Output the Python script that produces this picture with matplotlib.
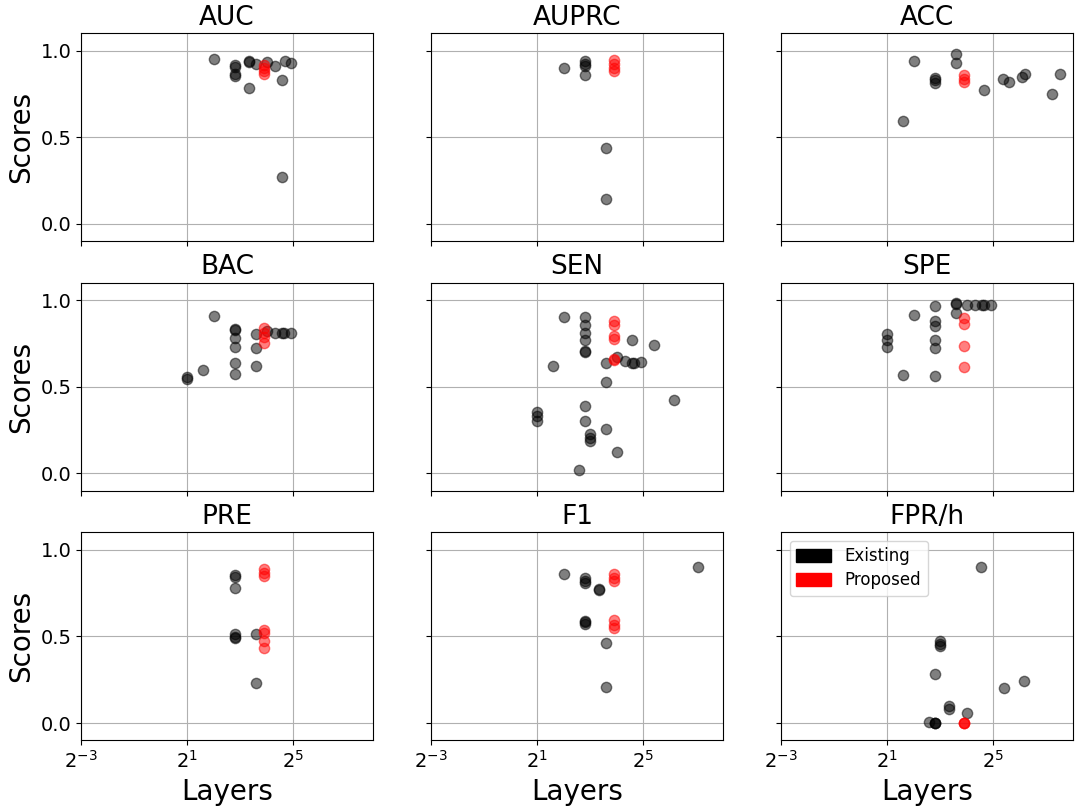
import matplotlib
matplotlib.use("Agg")
import matplotlib.pyplot as plt
from matplotlib.patches import Patch
from matplotlib.ticker import NullLocator

METRICS = ["AUC", "AUPRC", "ACC", "BAC", "SEN", "SPE", "PRE", "F1", "FPR/h"]

# existing methods: number of layers and score per metric
existing_layers = {
    "AUC": [4, 7, 7, 7, 7, 10, 10, 12, 10, 16, 20, 24, 24, 26, 30],
    "AUPRC": [4, 7, 7, 7, 7, 12, 12],
    "ACC": [3, 4, 7, 7, 7, 12, 12, 25, 41, 48, 68, 73, 147, 180],
    "BAC": [2, 2, 3, 4, 7, 7, 7, 7, 7, 7, 12, 12, 12, 16, 20, 24, 25, 30],
    "SEN": [2, 2, 2, 3, 4, 6, 7, 7, 7, 7, 7, 7, 7, 7, 8, 8, 8, 12, 12, 12,
            16, 16, 20, 24, 24, 25, 30, 42, 72],
    "SPE": [2, 2, 2, 3, 4, 7, 7, 7, 7, 7, 7, 12, 12, 12, 16, 20, 24, 25, 30],
    "PRE": [7, 7, 7, 7, 7, 7, 12, 12],
    "F1": [4, 7, 7, 7, 10, 10, 7, 7, 7, 12, 12, 135],
    "FPR/h": [23, 8, 8, 8, 7, 10, 10, 16, 42, 72, 6, 7, 7, 7],
}
existing_scores = {
    "AUC": [0.954, 0.915, 0.905, 0.865, 0.855, 0.938, 0.932, 0.925, 0.782,
            0.934, 0.913, 0.828, 0.272, 0.940, 0.927],
    "AUPRC": [0.902, 0.940, 0.925, 0.910, 0.859, 0.439, 0.145],
    "ACC": [0.595, 0.942, 0.840, 0.830, 0.810, 0.979, 0.931, 0.771, 0.834,
            0.817, 0.848, 0.863, 0.748, 0.863],
    "BAC": [0.555, 0.545, 0.595, 0.908, 0.835, 0.825, 0.784, 0.732, 0.636,
            0.576, 0.803, 0.726, 0.617, 0.819, 0.809, 0.809, 0.809, 0.809],
    "SEN": [0.355, 0.330, 0.300, 0.617, 0.902, 0.021, 0.904, 0.855, 0.813,
            0.767, 0.708, 0.698, 0.391, 0.304, 0.225, 0.205, 0.187, 0.636,
            0.530, 0.258, 0.669, 0.121, 0.649, 0.769, 0.640, 0.640, 0.645,
            0.740, 0.422],
    "SPE": [0.803, 0.770, 0.730, 0.570, 0.913, 0.967, 0.882, 0.848, 0.769,
            0.721, 0.565, 0.985, 0.975, 0.927, 0.969, 0.969, 0.969, 0.969,
            0.969],
    "PRE": [0.852, 0.842, 0.780, 0.516, 0.495, 0.488, 0.514, 0.231],
    "F1": [0.857, 0.838, 0.819, 0.810, 0.775, 0.765, 0.588, 0.580, 0.573,
           0.462, 0.208, 0.898],
    "FPR/h": [0.902, 0.472, 0.457, 0.443, 0.283, 0.096, 0.083, 0.060, 0.204,
              0.245, 0.006, 0.0, 0.0, 0.0],
}

# proposed model variants, all with 15 layers
proposed_layers = 15
proposed_scores = {
    "AUC": [0.917, 0.900, 0.880, 0.863],
    "AUPRC": [0.946, 0.920, 0.900, 0.880],
    "ACC": [0.859, 0.835, 0.820],
    "BAC": [0.842, 0.813, 0.790, 0.751],
    "SEN": [0.880, 0.857, 0.794, 0.775, 0.663, 0.653],
    "SPE": [0.894, 0.861, 0.734, 0.613],
    "PRE": [0.886, 0.867, 0.848, 0.534, 0.520, 0.472, 0.430],
    "F1": [0.857, 0.838, 0.819, 0.593, 0.568, 0.549],
    "FPR/h": [0.0, 0.0, 0.0],
}

fig, axes = plt.subplots(3, 3, figsize=(10.8, 8.1), dpi=100, sharex=True, sharey=True)
fig.subplots_adjust(left=0.075, right=0.9935, top=0.959, bottom=0.086,
                    wspace=0.2, hspace=0.2)

for ax, metric in zip(axes.flat, METRICS):
    ax.scatter(existing_layers[metric], existing_scores[metric],
               color="black", alpha=0.5, s=55)
    ax.scatter([proposed_layers] * len(proposed_scores[metric]), proposed_scores[metric],
               color="red", alpha=0.5, s=55)
    ax.set_title(metric, fontsize=19)
    ax.set_xscale("log", base=2)
    ax.grid(True)
    ax.set_axisbelow(True)
    ax.tick_params(labelsize=14)

axes[0, 0].set_xlim(2 ** -3, 2 ** 8)
axes[0, 0].set_xticks([2 ** -3, 2 ** 1, 2 ** 5])
axes[0, 0].xaxis.set_minor_locator(NullLocator())
axes[0, 0].set_ylim(-0.1, 1.1)
axes[0, 0].set_yticks([0.0, 0.5, 1.0])

for row in axes:
    row[0].set_ylabel("Scores", fontsize=20)
for ax in axes[-1]:
    ax.set_xlabel("Layers", fontsize=20)

handles = [Patch(color="black", label="Existing"), Patch(color="red", label="Proposed")]
axes[2, 2].legend(handles=handles, loc="upper left", fontsize=12,
                  labelspacing=0.35, handleheight=0.8, handlelength=2.1)

fig.savefig("out.png", dpi=100)
